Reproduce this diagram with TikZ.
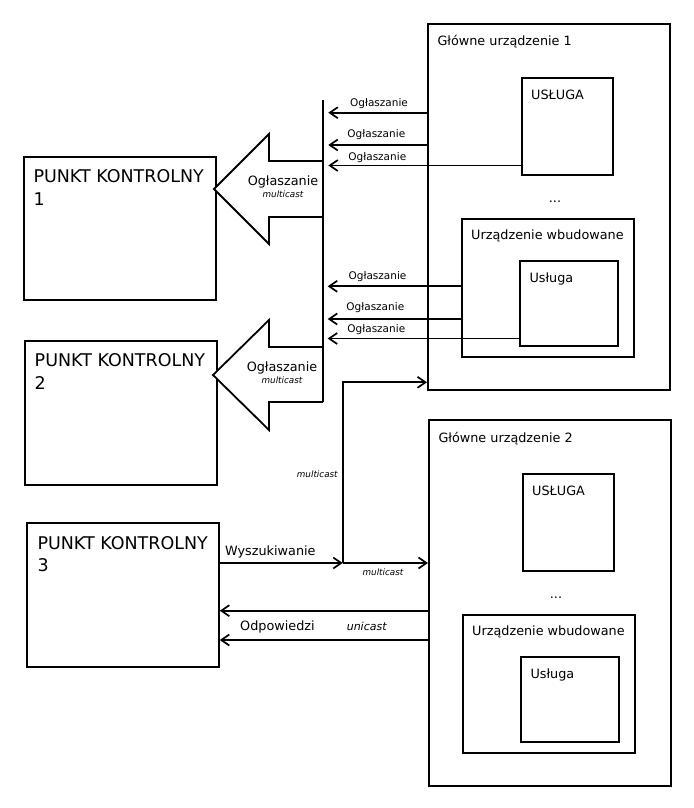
\documentclass[tikz,border=0pt]{standalone}
\usepackage{fontspec}
\setmainfont{DejaVu Sans}
\usetikzlibrary{arrows.meta}
\begin{document}
\begin{tikzpicture}[x=1pt,y=-1pt,
  lw/.style={line width=1.8pt},
  box/.style={draw, lw, anchor=north west, inner sep=0pt},
  arr/.style={lw, -{Straight Barb[length=8pt,width=11pt,line width=1.7pt]}},
  pktext/.style={anchor=base west, align=left, inner sep=0pt, font=\fontsize{17.5}{22.3}\selectfont},
  lab/.style={anchor=base west, inner sep=0pt, font=\fontsize{12.8}{15}\selectfont},
  small/.style={anchor=base, inner sep=0pt, font=\fontsize{10.5}{12}\selectfont},
  mid/.style={anchor=base, inner sep=0pt, font=\fontsize{12.8}{15}\selectfont},
  tiny/.style={anchor=base, inner sep=0pt, font=\fontsize{8.8}{10}\selectfont\itshape},
  bigarrow/.style={draw, lw, fill=white, line join=miter}
]
\useasboundingbox (0,0) rectangle (693,808);

% control points
\node[box, minimum width=192pt, minimum height=143pt] (pk1) at (23,156) {};
\node[box, minimum width=192pt, minimum height=144pt] (pk2) at (24,340) {};
\node[box, minimum width=192pt, minimum height=144pt] (pk3) at (26,522) {};
\node[pktext] (pk1t) at (33.3,205) {PUNKT KONTROLNY\\1};
\node[pktext] (pk2t) at (34.5,389) {PUNKT KONTROLNY\\2};
\node[pktext] (pk3t) at (37.3,571.6) {PUNKT KONTROLNY\\3};

% device 1
\node[box, minimum width=242pt, minimum height=366pt] (dev1) at (427,23) {};
\node[box, minimum width=91pt, minimum height=97pt] (us1) at (521,77) {};
\node[box, minimum width=172pt, minimum height=138pt] (emb1) at (461,218) {};
\node[box, minimum width=98pt, minimum height=85pt] (usl1) at (519,260) {};
\node[lab] (dev1t) at (437.3,46) {Główne urządzenie 1};
\node[lab] (us1t) at (531,99.3) {USŁUGA};
\node[lab] (emb1t) at (471,239.3) {Urządzenie wbudowane};
\node[lab] (usl1t) at (529.3,282) {Usługa};
\node[mid] (dots1) at (555,202) {...};

% device 2
\node[box, minimum width=242pt, minimum height=366pt] (dev2) at (428,419) {};
\node[box, minimum width=91pt, minimum height=97pt] (us2) at (522,473) {};
\node[box, minimum width=172pt, minimum height=138pt] (emb2) at (462,614) {};
\node[box, minimum width=98pt, minimum height=85pt] (usl2) at (520,656) {};
\node[lab] (dev2t) at (438.3,442) {Główne urządzenie 2};
\node[lab] (us2t) at (532,495.3) {USŁUGA};
\node[lab] (emb2t) at (472,635.3) {Urządzenie wbudowane};
\node[lab] (usl2t) at (530.3,678) {Usługa};
\node[mid] (dots2) at (556,598) {...};

% block arrows (multicast announcements)
\draw[bigarrow] (323,161) -- (269,161) -- (269,134) -- (214,189) -- (269,244) -- (269,217) -- (323,217);
\draw[bigarrow] (323,347) -- (269,347) -- (269,320) -- (213,375) -- (269,430) -- (269,402) -- (323,402);
\coordinate (busTop) at (323,100);
\coordinate (busBot) at (323,402);
\draw[lw] (busTop) -- (busBot);
\node[mid] (a1t) at (283,185.7) {Ogłaszanie};
\node[tiny] (a1m) at (283,197.3) {multicast};
\node[mid] (a2t) at (282,371.7) {Ogłaszanie};
\node[tiny] (a2m) at (282,383.3) {multicast};

% announcement arrows
\coordinate (e1) at (328.3,112.7);
\coordinate (e2) at (328.3,145);
\coordinate (e3) at (328.3,165.5);
\coordinate (e4) at (327.7,286.3);
\coordinate (e5) at (327.7,319);
\coordinate (e6) at (327.7,338.5);
\draw[arr] (dev1.west |- e1) -- (e1);
\draw[arr] (dev1.west |- e2) -- (e2);
\draw[arr] (us1.west |- e3) -- (e3);
\draw[arr] (emb1.west |- e4) -- (e4);
\draw[arr] (emb1.west |- e5) -- (e5);
\draw[arr] (usl1.west |- e6) -- (e6);
\node[small] (o1) at (379,106.7) {Ogłaszanie};
\node[small] (o2) at (376.3,137.7) {Ogłaszanie};
\node[small] (o3) at (377.3,160) {Ogłaszanie};
\node[small] (o4) at (377.5,279.3) {Ogłaszanie};
\node[small] (o5) at (375.3,310.7) {Ogłaszanie};
\node[small] (o6) at (376.3,332.7) {Ogłaszanie};

% search
\coordinate (junc) at (342.7,563);
\coordinate (juncTop) at (342.7,382.3);
\draw[arr] (pk3.east |- junc) -- (junc);
\draw[arr] (junc) -- (juncTop) -- (dev1.west |- juncTop);
\draw[arr] (junc) -- (dev2.west |- junc);
\node[mid, anchor=base west] (wys) at (225,555) {Wyszukiwanie};
\node[tiny] (mc1) at (317.3,477.3) {multicast};
\node[tiny] (mc2) at (383,575) {multicast};

% responses
\coordinate (r1) at (0,610.7);
\coordinate (r2) at (0,640);
\draw[arr] (dev2.west |- r1) -- (pk3.east |- r1);
\draw[arr] (dev2.west |- r2) -- (pk3.east |- r2);
\node[mid, anchor=base west] (odp) at (240,630) {Odpowiedzi};
\node[anchor=base, inner sep=0pt, font=\fontsize{11}{13}\selectfont\itshape] (uni) at (366.7,630) {unicast};
\end{tikzpicture}
\end{document}
